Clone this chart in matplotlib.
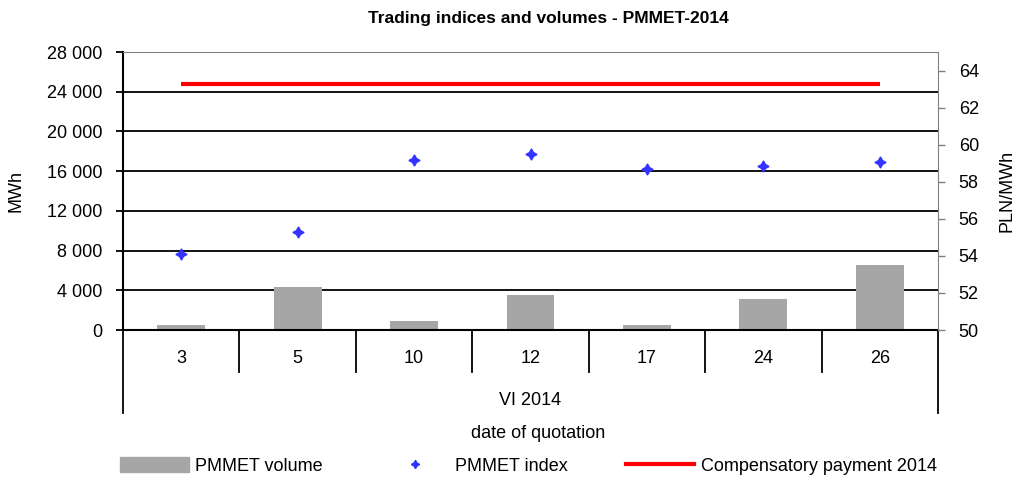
import matplotlib
matplotlib.use("Agg")
import matplotlib.pyplot as plt
from matplotlib.lines import Line2D
from matplotlib.patches import Patch

#  Chart data
days = ["3", "5", "10", "12", "17", "24", "26"]
volume = [500, 4300, 900, 3500, 500, 3100, 6500]
index = [54.09, 55.28, 59.15, 59.48, 58.71, 58.83, 59.05]
compensatory = [63.3] * 7
left_ticks = [0, 4000, 8000, 12000, 16000, 20000, 24000, 28000]
right_ticks = [50, 52, 54, 56, 58, 60, 62, 64]

plt.rcParams["font.family"] = ["Liberation Sans", "DejaVu Sans"]

fig = plt.figure(figsize=(10.16, 4.78), dpi=100)
ax = fig.add_axes([0.1211, 0.3096, 0.8021, 0.5816])
ax2 = ax.twinx()

x = list(range(len(days)))

#  Bars + grid on the left axis
ax.set_axisbelow(True)
for t in left_ticks[1:-1]:
    ax.axhline(t, color="black", lw=1.3, zorder=0)
ax.bar(x, volume, width=0.41, color="#a6a6a6", zorder=2)
ax.set_xlim(-0.5, len(days) - 0.5)
ax.set_ylim(0, 28000)
ax.set_yticks(left_ticks)
ax.set_yticklabels([f"{v:,}".replace(",", " ") for v in left_ticks], fontsize=13)
ax.set_ylabel("MWh", fontsize=13, labelpad=16)
ax.tick_params(axis="y", direction="out", length=5, width=1.3, color="black", pad=10)
ax.set_xticks([])
ax.spines["top"].set_color("#808080")
ax.spines["left"].set_linewidth(1.5)
ax.spines["bottom"].set_linewidth(1.5)
ax.spines["right"].set_visible(False)

#  Index + compensatory on the right axis
ax2.plot(x, compensatory, color="red", lw=3, solid_capstyle="butt", zorder=3)
ax2.plot(x, index, ls="none", marker=(4, 1, 0), ms=8, color="#3333ff", zorder=4)
ax2.set_ylim(50, 65)
ax2.set_yticks(right_ticks)
ax2.set_yticklabels([str(v) for v in right_ticks], fontsize=13)
ax2.set_ylabel("PLN/MWh", fontsize=13, labelpad=14)
ax2.tick_params(axis="y", direction="out", length=5, width=1, color="#808080", pad=10)
ax2.spines["right"].set_color("#808080")
ax2.spines["top"].set_visible(False)
ax2.spines["left"].set_visible(False)
ax2.spines["bottom"].set_visible(False)

#  Multi-level category axis
tr = ax.get_xaxis_transform()
for i in range(1, len(days)):
    ax.plot([i - 0.5, i - 0.5], [0, -0.151], color="black", lw=1.3, transform=tr, clip_on=False)
for edge in (-0.5, len(days) - 0.5):
    ax.plot([edge, edge], [0, -0.2986], color="black", lw=1.3, transform=tr, clip_on=False)
for i, d in enumerate(days):
    ax.text(i, -0.104, d, transform=tr, ha="center", va="center", fontsize=13)
ax.text((len(days) - 1) / 2, -0.252, "VI 2014", transform=tr, ha="center", va="center", fontsize=13)
fig.text(0.5296, 1 - 433 / 478, "date of quotation", ha="center", va="center", fontsize=13)

fig.text(0.5398, 1 - 18 / 478, "Trading indices and volumes - PMMET-2014",
         ha="center", va="center", fontsize=12.5, fontweight="bold")

#  Legend
handles = [
    Patch(color="#a6a6a6"),
    Line2D([], [], ls="none", marker=(4, 1, 0), ms=6, color="#3333ff"),
    Line2D([], [], color="red", lw=3),
]
labels = ["PMMET volume", "PMMET index", "Compensatory payment 2014"]
fig.legend(handles, labels, loc="center", bbox_to_anchor=(0.52, 1 - 466 / 478), ncol=3,
           frameon=False, fontsize=13, handlelength=3.8, handleheight=0.9,
           columnspacing=3.2, handletextpad=0.35)

fig.savefig("out.png", dpi=100)
